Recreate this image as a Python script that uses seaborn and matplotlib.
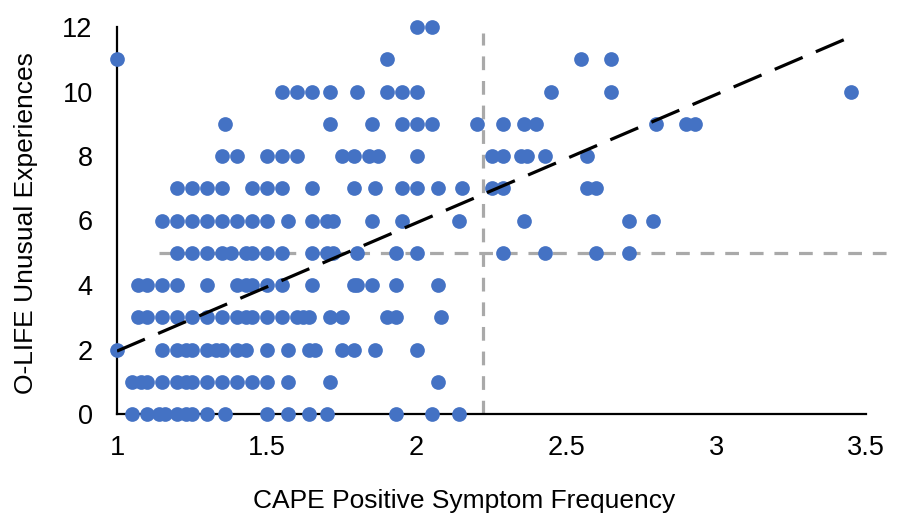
import matplotlib
matplotlib.use("Agg")
import matplotlib.pyplot as plt
import seaborn as sns
import pandas as pd

# CAPE positive-symptom frequency scores, grouped by O-LIFE Unusual Experiences score
ue_0 = [1.05, 1.10, 1.14, 1.16, 1.20, 1.23, 1.25, 1.30, 1.36, 1.50, 1.57, 1.64, 1.70, 1.93, 2.05, 2.14]
ue_1 = [1.05, 1.08, 1.10, 1.15, 1.20, 1.23, 1.25, 1.30, 1.35, 1.40, 1.45, 1.50, 1.57, 1.71, 2.07]
ue_2 = [1.00, 1.15, 1.20, 1.23, 1.25, 1.30, 1.33, 1.35, 1.40, 1.43, 1.50, 1.57, 1.64, 1.66, 1.75,
        1.79, 1.86, 2.00]
ue_3 = [1.07, 1.10, 1.15, 1.20, 1.25, 1.30, 1.35, 1.40, 1.43, 1.45, 1.50, 1.55, 1.60, 1.62, 1.64,
        1.71, 1.75, 1.90, 1.93, 2.08]
ue_4 = [1.07, 1.10, 1.15, 1.20, 1.30, 1.40, 1.43, 1.45, 1.50, 1.55, 1.65, 1.79, 1.80, 1.85, 1.93, 2.07]
ue_5 = [1.20, 1.25, 1.30, 1.35, 1.38, 1.43, 1.45, 1.50, 1.55, 1.65, 1.70, 1.72, 1.80, 1.93, 2.00,
        2.29, 2.43, 2.60, 2.71]
ue_6 = [1.15, 1.20, 1.25, 1.30, 1.35, 1.40, 1.45, 1.50, 1.57, 1.65, 1.70, 1.72, 1.85, 1.95, 2.14,
        2.36, 2.71, 2.79]
ue_7 = [1.20, 1.25, 1.30, 1.35, 1.45, 1.50, 1.55, 1.65, 1.79, 1.86, 1.95, 2.00, 2.07, 2.15, 2.25,
        2.29, 2.57, 2.60]
ue_8 = [1.35, 1.40, 1.50, 1.55, 1.60, 1.75, 1.79, 1.84, 1.87, 2.00, 2.25, 2.29, 2.35, 2.37, 2.43, 2.57]
ue_9 = [1.36, 1.71, 1.85, 1.95, 2.00, 2.05, 2.20, 2.29, 2.36, 2.40, 2.80, 2.90, 2.93]
ue_10 = [1.55, 1.60, 1.65, 1.71, 1.80, 1.90, 1.95, 2.00, 2.45, 2.65, 3.45]
ue_11 = [1.00, 1.90, 2.55, 2.65]
ue_12 = [2.00, 2.05]

# linear trend (start and end points)
trend_x = [1.0, 3.45]
trend_y = [1.95, 11.7]

# reference cut-offs
ue_cutoff = 5
ue_cutoff_span = [1.14, 3.6]
cape_cutoff = 2.22
cape_cutoff_span = [0, 11.8]

x_ticks = [1, 1.5, 2, 2.5, 3, 3.5]
x_tick_labels = ["1", "1.5", "2", "2.5", "3", "3.5"]
y_ticks = [0, 2, 4, 6, 8, 10, 12]

rows = [ue_0, ue_1, ue_2, ue_3, ue_4, ue_5, ue_6, ue_7, ue_8, ue_9, ue_10, ue_11, ue_12]
df = pd.DataFrame(
    [(x, score) for score, xs in enumerate(rows) for x in xs],
    columns=["cape", "ue"],
)

sns.set_theme(style="white")
plt.rcParams["font.family"] = ["Liberation Sans", "DejaVu Sans"]

fig = plt.figure(figsize=(9, 5.19), dpi=100)
ax = fig.add_axes([117 / 900, 105 / 519, 749 / 900, 387 / 519])

grey = "#A9A9A9"
ax.plot([ue_cutoff_span[0], ue_cutoff_span[1]], [ue_cutoff, ue_cutoff], color=grey,
        lw=2.3, dashes=(4.3, 3.4), clip_on=False, zorder=1)
ax.plot([cape_cutoff, cape_cutoff], cape_cutoff_span, color=grey,
        lw=2.3, dashes=(4.3, 3.4), clip_on=False, zorder=1)

sns.scatterplot(data=df, x="cape", y="ue", ax=ax, s=112, color="#4472C4",
                linewidth=0, clip_on=False, zorder=3, legend=False)

sns.lineplot(x=trend_x, y=trend_y, ax=ax, color="black", lw=2.3,
             dashes=False, zorder=4)
ax.lines[-1].set_dashes((9.5, 4.5))

ax.set_xlim(1, 3.5)
ax.set_ylim(0, 12)
ax.set_xticks(x_ticks)
ax.set_xticklabels(x_tick_labels)
ax.set_yticks(y_ticks)
ax.tick_params(axis="both", length=0, labelsize=19.5, colors="black")
ax.tick_params(axis="x", pad=15)
ax.tick_params(axis="y", pad=17.5)

for side in ["top", "right"]:
    ax.spines[side].set_visible(False)
for side in ["left", "bottom"]:
    ax.spines[side].set_color("black")
    ax.spines[side].set_linewidth(1.6)

ax.set_xlabel("CAPE Positive Symptom Frequency", fontsize=19, color="black")
ax.set_ylabel("O-LIFE Unusual Experiences", fontsize=19, color="black")
ax.xaxis.set_label_coords(0.463, -0.193)
ax.yaxis.set_label_coords(-0.105, 0.494)

fig.savefig("out.png", dpi=100, facecolor="white")
